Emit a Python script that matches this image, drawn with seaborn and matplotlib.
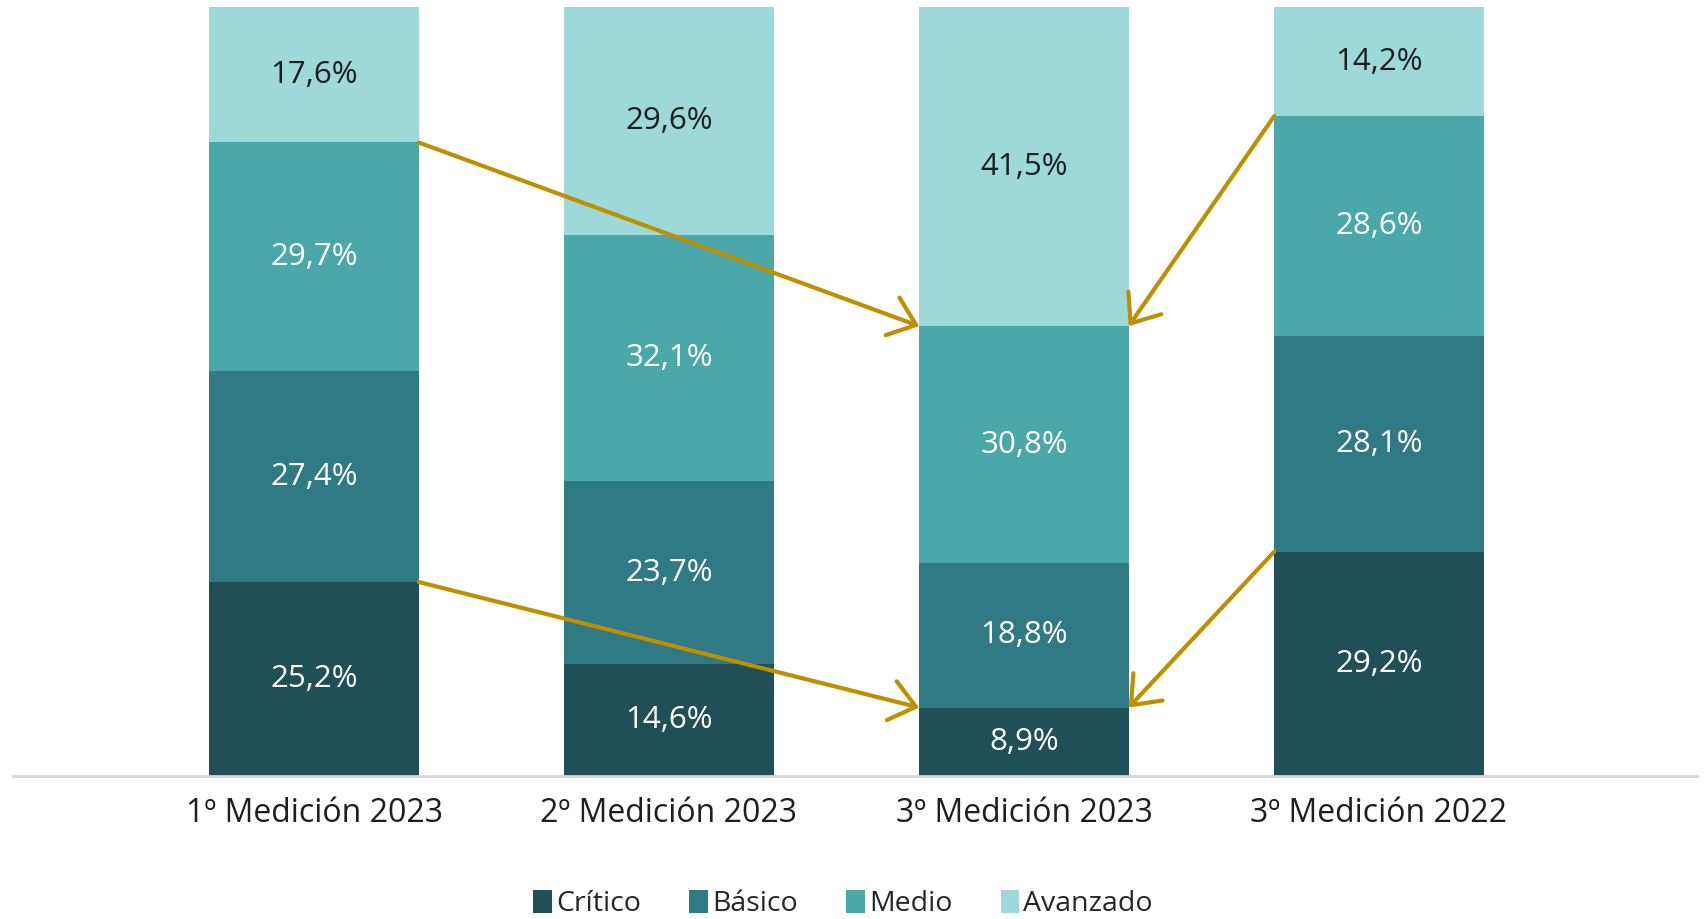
import numpy as np
import pandas as pd
import matplotlib
matplotlib.use('Agg')
import matplotlib.pyplot as plt
import seaborn as sns
from matplotlib.patches import Patch
from matplotlib.font_manager import FontProperties

# Datos (% de estudiantes por nivel de logro)
mediciones = ['1º Medición 2023', '2º Medición 2023', '3º Medición 2023', '3º Medición 2022']
niveles = ['Crítico', 'Básico', 'Medio', 'Avanzado']
critico = [25.2, 14.6, 8.9, 29.2]
basico = [27.4, 23.7, 18.8, 28.1]
medio = [29.7, 32.1, 30.8, 28.6]
avanzado = [17.6, 29.6, 41.5, 14.2]

colores = ['#214F58', '#2F7A84', '#4AA7AA', '#9CD9D8']
color_texto = ['white', 'white', 'white', '#1E1E1E']
dorado = '#BF8F00'

df = pd.DataFrame({'Medición': mediciones, 'Crítico': critico, 'Básico': basico,
                   'Medio': medio, 'Avanzado': avanzado})
# barras al 100% (las sumas redondeadas no dan exactamente 100)
norm = df[niveles].div(df[niveles].sum(axis=1), axis=0) * 100
tops = norm.cumsum(axis=1)

sns.set_style('white')
plt.rcParams['font.family'] = ['Open Sans', 'DejaVu Sans']

fig = plt.figure(figsize=(17.04, 9.19), dpi=100)
ax = fig.add_axes([13 / 1704, 143 / 919, 1684 / 1704, 769 / 919])

ancho = 0.59
# barras apiladas: se dibuja el acumulado de arriba hacia abajo
for nivel, color in reversed(list(zip(niveles, colores))):
    sns.barplot(x=df['Medición'], y=tops[nivel], order=mediciones, color=color,
                width=ancho, saturation=1, linewidth=0, ax=ax)

# etiquetas de valores
for i in range(len(mediciones)):
    for nivel, ct in zip(niveles, color_texto):
        v = df.loc[i, nivel]
        y = tops.loc[i, nivel] - norm.loc[i, nivel] / 2
        ax.text(i, y, f'{v:.1f}'.replace('.', ',') + '%', ha='center', va='center',
                fontsize=22.5, color=ct)

# flechas de comparación
estilo = dict(arrowstyle='->,head_length=0.9,head_width=0.72', color=dorado, lw=3,
              shrinkA=0, shrinkB=0, mutation_scale=20)
for nivel in ['Medio', 'Crítico']:
    ax.annotate('', xy=(2 - ancho / 2, tops.loc[2, nivel]),
                xytext=(0 + ancho / 2, tops.loc[0, nivel]), arrowprops=estilo)
    ax.annotate('', xy=(2 + ancho / 2, tops.loc[2, nivel]),
                xytext=(3 - ancho / 2, tops.loc[3, nivel]), arrowprops=estilo)

ax.set_xlim(-0.848, 3.896)
ax.set_ylim(0, 100)
ax.set_yticks([])
ax.set_xlabel('')
ax.set_ylabel('')
for s in ['top', 'right', 'left']:
    ax.spines[s].set_visible(False)
ax.spines['bottom'].set_color('#D9D9D9')
ax.spines['bottom'].set_linewidth(2)
ax.tick_params(axis='x', length=0, pad=15, labelsize=23, labelcolor='#1E1E1E')

handles = [Patch(facecolor=c, edgecolor='none') for c in colores]
fig.legend(handles, niveles, loc='center', bbox_to_anchor=(843 / 1704, 1 - 904 / 919),
           ncol=4, frameon=False, handlelength=0.65, handleheight=0.85,
           handletextpad=0.15, columnspacing=1.7,
           prop=FontProperties(family=['Open Sans'], size=20.5))

fig.savefig('out.png', dpi=100)
